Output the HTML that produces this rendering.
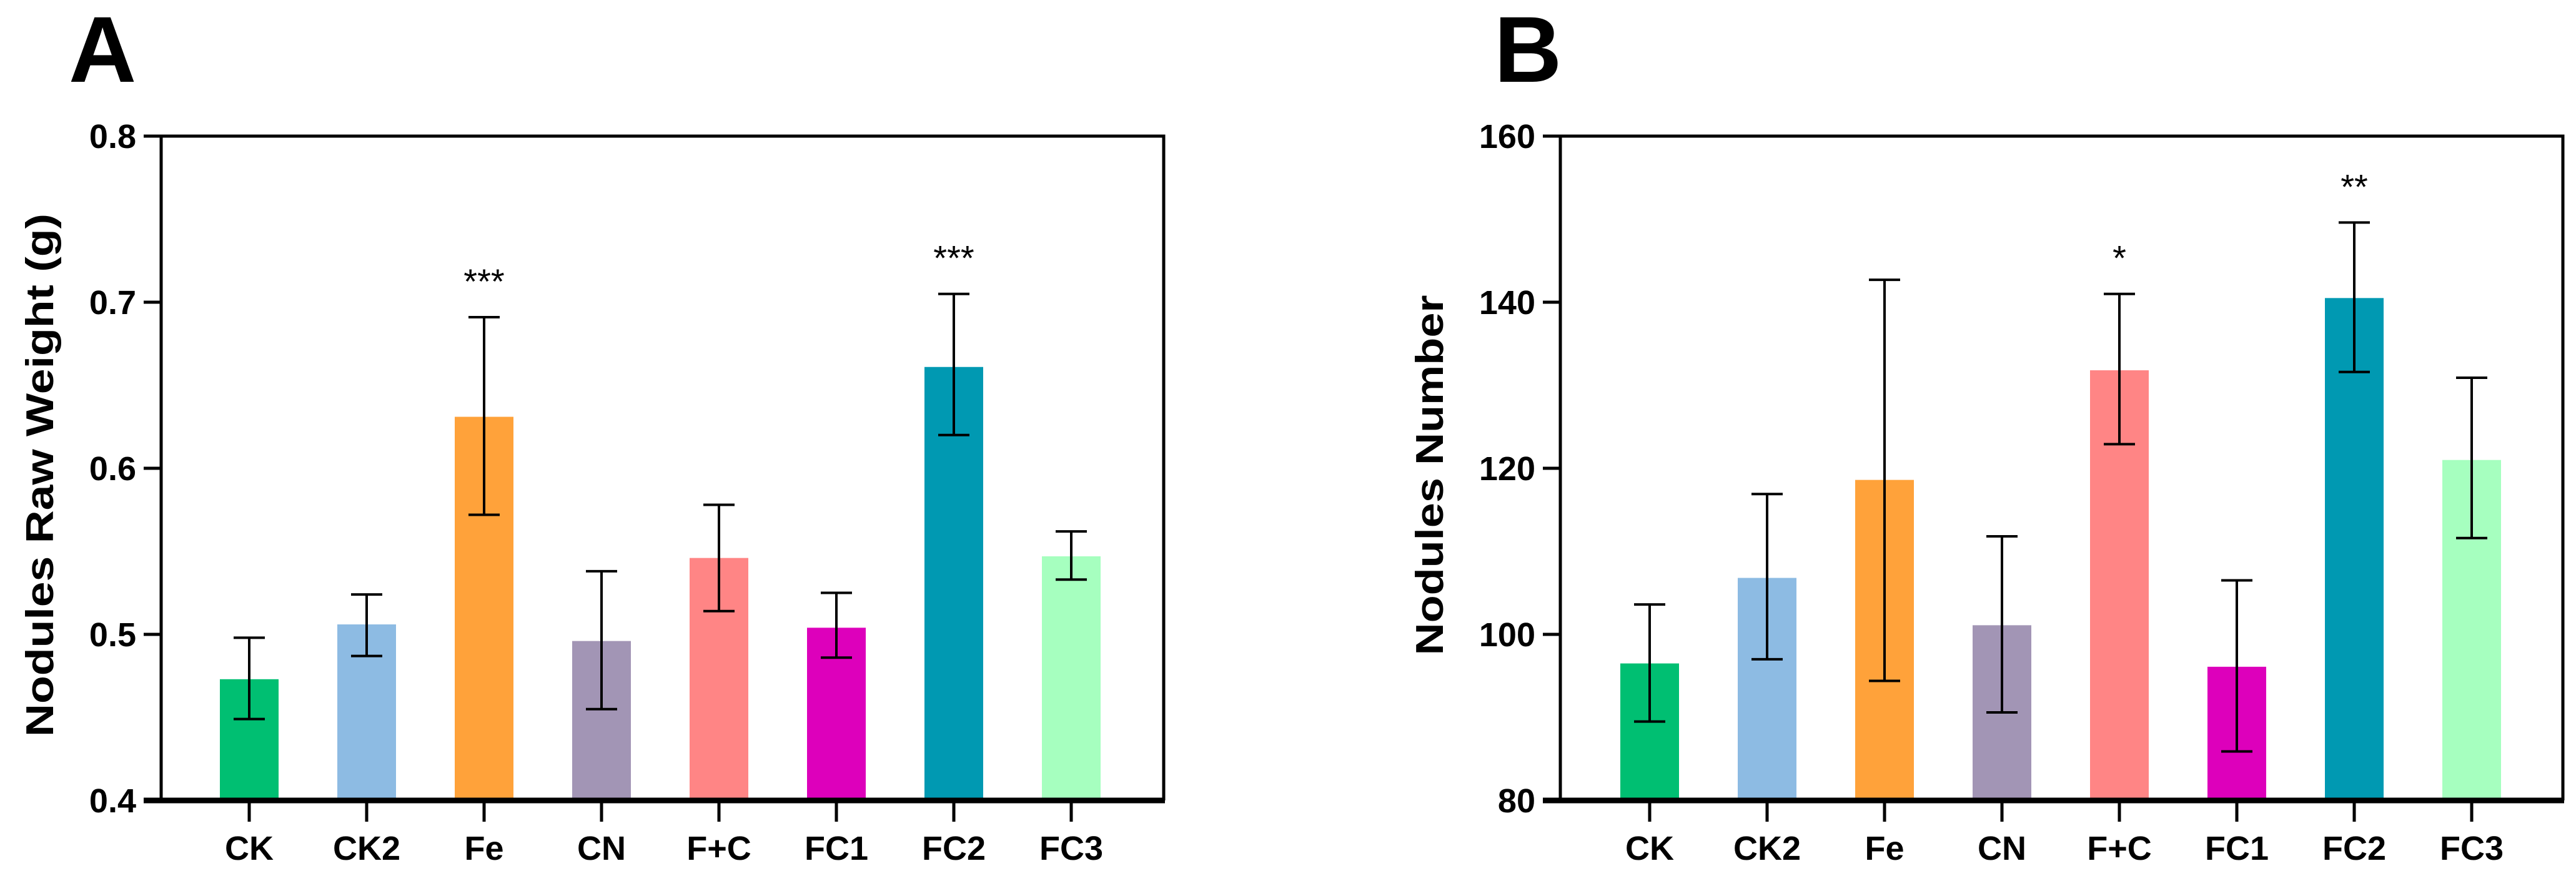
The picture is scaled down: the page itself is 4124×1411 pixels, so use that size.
<!DOCTYPE html>
<html><head><meta charset="utf-8"><style>
html,body{margin:0;padding:0;background:#fff;}
svg{display:block;font-family:"Liberation Sans",Arial,sans-serif;}
</style></head><body>
<svg id="fig" width="4124" height="1411" viewBox="0 0 4124 1411" xmlns="http://www.w3.org/2000/svg"></svg>
<script>
const categories = ["CK","CK2","Fe","CN","F+C","FC1","FC2","FC3"];
const colors = ["#00BF72","#8DBBE3","#FFA23A","#A295B5","#FF8585","#DD00BB","#0099B2","#A6FFBF"];
const weightMeans = [0.473,0.506,0.631,0.496,0.546,0.504,0.661,0.547];
const weightHi = [0.498,0.524,0.691,0.538,0.578,0.525,0.705,0.562];
const weightLo = [0.449,0.487,0.572,0.455,0.514,0.486,0.620,0.533];
const weightStars = ["","","***","","","","***",""];
const weightTicks = [0.4,0.5,0.6,0.7,0.8];
const weightTickLabels = ["0.4","0.5","0.6","0.7","0.8"];
const numberMeans = [96.5,106.8,118.6,101.1,131.8,96.1,140.5,121.0];
const numberHi = [103.6,116.9,142.7,111.8,141.0,106.5,149.6,130.9];
const numberLo = [89.5,97.0,94.4,90.6,122.9,85.9,131.6,111.6];
const numberStars = ["","","","","*","","**",""];
const numberTicks = [80,100,120,140,160];
const numberTickLabels = ["80","100","120","140","160"];

const NS="http://www.w3.org/2000/svg";
const svg=document.getElementById('fig');
function mk(tag,attrs,parent){const e=document.createElementNS(NS,tag);for(const k in attrs)e.setAttribute(k,attrs[k]);(parent||svg).appendChild(e);return e;}

function panel(cfg){
  const g=mk('g',{});
  
  
  const L=cfg.left,R=cfg.right,T=218,B=1282;
  const y=v=>B-(v-cfg.min)/(cfg.max-cfg.min)*(B-T);
  const x=i=>cfg.x0+i*cfg.step;
  // letter
  const lt=mk('text',{x:cfg.letterX,y:131,'font-size':150,'font-weight':'bold',fill:'#000'},g);
  lt.textContent=cfg.letter;
  
  
  // bars
  categories.forEach((c,i)=>{
    const r=mk('rect',{x:x(i)-47,y:y(cfg.means[i]),width:94,height:B-y(cfg.means[i]),fill:colors[i]},g);
    
    
    const eb=mk('path',{d:`M${x(i)} ${y(cfg.hi[i])}V${y(cfg.lo[i])}M${x(i)-25} ${y(cfg.hi[i])}H${x(i)+25}M${x(i)-25} ${y(cfg.lo[i])}H${x(i)+25}`,stroke:'#000','stroke-width':4,fill:'none'},g);
    
    
    if(cfg.stars[i]){
      const s=mk('text',{x:x(i),y:y(cfg.hi[i])-38,'text-anchor':'middle','font-size':56,fill:'#000'},g);
      s.textContent=cfg.stars[i];
      
      
    }
    const tk=mk('line',{x1:x(i),x2:x(i),y1:B,y2:1316,stroke:'#000','stroke-width':5},g);
    
    
    const tl=mk('text',{x:x(i),y:1377,'text-anchor':'middle','font-size':54,'font-weight':'bold',fill:'#000'},g);
    tl.textContent=c;
    
    
  });
  // frame
  const fr=mk('path',{d:`M${L} ${B}V${T}H${R}V${B}`,stroke:'#000','stroke-width':5,fill:'none'},g);
  
  
  const xa=mk('line',{x1:L-28,x2:R+2,y1:B,y2:B,stroke:'#000','stroke-width':9},g);
  
  
  cfg.ticks.forEach((t,j)=>{
    const tk=mk('line',{x1:L-28,x2:L,y1:y(t),y2:y(t),stroke:'#000','stroke-width':5},g);
    
    
    const tl=mk('text',{x:L-40,y:y(t)+19,'text-anchor':'end','font-size':54,'font-weight':'bold',fill:'#000'},g);
    tl.textContent=cfg.tickLabels[j];
    
    
  });
  const yt=mk('text',{x:0,y:0,transform:`translate(${cfg.titleX},761) rotate(-90)`,'text-anchor':'middle','font-size':62,'font-weight':'bold',fill:'#000',textLength:cfg.titleLen,lengthAdjust:'spacingAndGlyphs'},g);
  yt.textContent=cfg.title;
  
  
}
panel({name:'panel-a-nodule-weight',letter:'A',letterX:110,left:258,right:1863,x0:399,step:188,min:0.4,max:0.8,means:weightMeans,hi:weightHi,lo:weightLo,stars:weightStars,ticks:weightTicks,tickLabels:weightTickLabels,title:'Nodules Raw Weight (g)',titleX:85,titleLen:838});
panel({name:'panel-b-nodule-number',letter:'B',letterX:2392,left:2498,right:4103,x0:2641,step:188,min:80,max:160,means:numberMeans,hi:numberHi,lo:numberLo,stars:numberStars,ticks:numberTicks,tickLabels:numberTickLabels,title:'Nodules Number',titleX:2310,titleLen:577});
</script>
</body></html>
